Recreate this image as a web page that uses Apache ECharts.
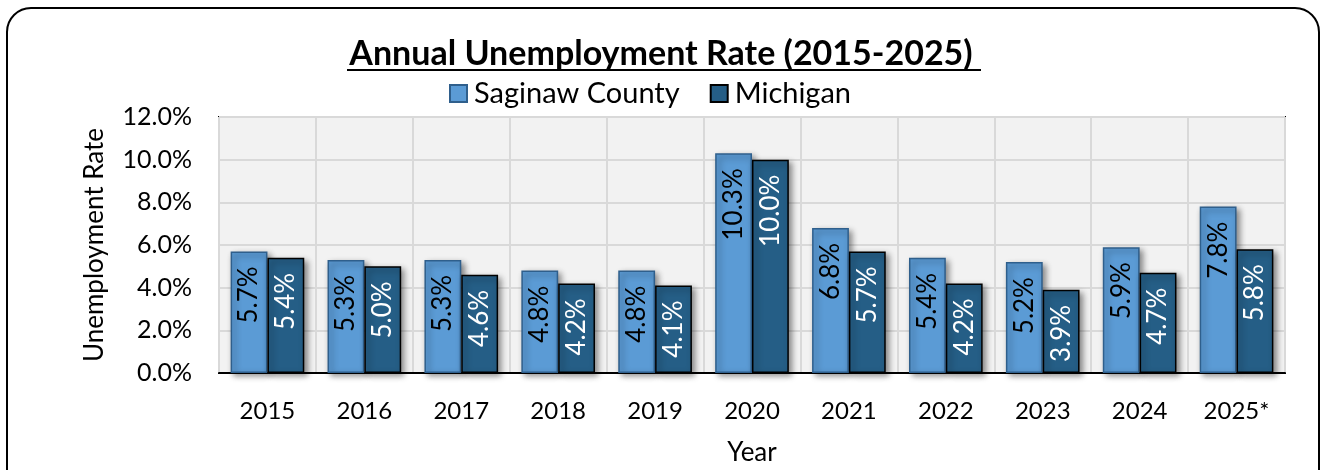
<!DOCTYPE html>
<html><head><meta charset="utf-8">
<script src="https://cdn.jsdelivr.net/npm/echarts@6/dist/echarts.min.js"></script>
<style>html,body{margin:0;padding:0;background:#fff}#c{width:1322px;height:470px}</style>
</head><body><div id="c"></div>
<script>
const categories = ['2015','2016','2017','2018','2019','2020','2021','2022','2023','2024','2025*'];
const saginaw = [5.7,5.3,5.3,4.8,4.8,10.3,6.8,5.4,5.2,5.9,7.8];
const michigan = [5.4,5.0,4.6,4.2,4.1,10.0,5.7,4.2,3.9,4.7,5.8];
const titleText = 'Annual Unemployment Rate (2015-2025)';
const FONT = 'Lato';
const chart = echarts.init(document.getElementById('c'));
const shadow = {shadowBlur:6, shadowOffsetX:3, shadowOffsetY:3, shadowColor:'rgba(0,0,0,0.45)'};
function lbl(color){
  return {show:true, position:'insideTop', rotate:90, align:'right', verticalAlign:'middle', distance:15,
    color:color, fontFamily:FONT, fontSize:26, formatter:p=>p.value.toFixed(1)+'%'};
}
chart.setOption({
  animation:false,
  textStyle:{fontFamily:FONT},
  title:{text:titleText, left:'center', top:32, textStyle:{fontFamily:FONT, fontWeight:'bold', fontSize:34, color:'#000'}},
  legend:{top:74, left:444, itemWidth:17, itemHeight:17, itemGap:30, icon:'rect',
    textStyle:{fontFamily:FONT, fontSize:29, color:'#000', padding:[0,0,0,2]}},
  graphic:[
    {type:'rect', shape:{x:7, y:8, width:1312, height:490, r:24}, style:{fill:'none', stroke:'#000', lineWidth:2}, z:-1},
    {type:'line', shape:{x1:347, y1:70, x2:981, y2:70}, style:{stroke:'#000', lineWidth:2}}
  ],
  grid:{left:219, right:37, top:117, bottom:97, outerBoundsMode:'none', containLabel:false, show:true, backgroundColor:'#F2F2F2', borderColor:'#000', borderWidth:2},
  xAxis:{type:'category', data:categories, name:'Year', nameLocation:'middle', nameGap:67,
    nameTextStyle:{fontFamily:FONT, fontSize:26, color:'#000'},
    axisLine:{lineStyle:{color:'#000', width:2}}, axisTick:{show:false},
    axisLabel:{fontFamily:FONT, fontSize:24, color:'#000', margin:26},
    splitLine:{show:true, lineStyle:{color:'#D9D9D9', width:2}}},
  yAxis:{type:'value', min:0, max:12, interval:2, name:'Unemployment Rate', nameLocation:'middle', nameGap:111,
    nameTextStyle:{fontFamily:FONT, fontSize:26, color:'#000'},
    axisLine:{show:false}, axisTick:{show:false},
    axisLabel:{fontFamily:FONT, fontSize:25, color:'#000', margin:27, formatter:v=>v.toFixed(1)+'%'},
    splitLine:{lineStyle:{color:'#D9D9D9', width:2}}},
  series:[
    {name:'Saginaw County', type:'bar', data:saginaw, barGap:'0%', barCategoryGap:'24%',
      itemStyle:Object.assign({color:'#5B9BD5', borderColor:'#2F5F8C', borderWidth:1.5}, shadow), label:lbl('#000')},
    {name:'Michigan', type:'bar', data:michigan,
      itemStyle:Object.assign({color:'#255E86', borderColor:'#000', borderWidth:1.5}, shadow), label:lbl('#fff')}
  ]
});
</script></body></html>
